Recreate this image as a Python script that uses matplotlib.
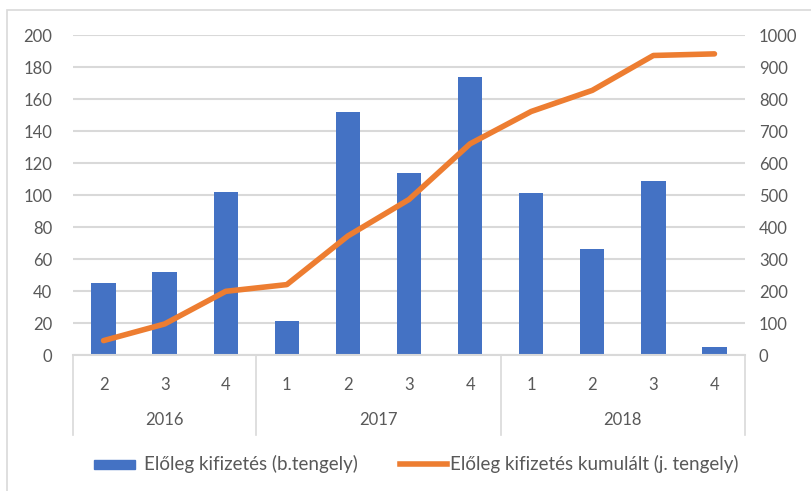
import numpy as np
import matplotlib.pyplot as plt
from matplotlib.patches import Rectangle
from matplotlib.lines import Line2D

plt.rcParams['font.family'] = ['Lato', 'DejaVu Sans']

# data
years = ['2016', '2017', '2018']
year_counts = [3, 4, 4]
quarters = ['2', '3', '4', '1', '2', '3', '4', '1', '2', '3', '4']
payments = [45, 52, 102, 21, 152, 114, 174, 101, 66, 109, 5]
cumulative = [45, 97, 199, 220, 372, 486, 660, 761, 827, 936, 941]

bar_label = 'Előleg kifizetés (b.tengely)'
line_label = 'Előleg kifizetés kumulált (j. tengely)'

blue = '#4472C4'
orange = '#ED7D31'
txt = '#595959'
grid = '#D9D9D9'
W, H = 812, 491

fig = plt.figure(figsize=(W/100, H/100), dpi=100)
ax = fig.add_axes([73/W, 1-355/H, 672/W, 320/H])
ax2 = ax.twinx()

x = np.arange(len(quarters))
ax.bar(x, payments, width=0.4, color=blue, zorder=2)
ax2.plot(x, cumulative, color=orange, lw=4, solid_capstyle='round', solid_joinstyle='round', zorder=3)

ax.set_xlim(-0.5, len(quarters)-0.5)
ax.set_ylim(0, 200)
ax2.set_ylim(0, 1000)
ax.set_yticks(range(0, 201, 20))
ax2.set_yticks(range(0, 1001, 100))
ax.yaxis.grid(True, color=grid, lw=1.5, zorder=0)
ax.set_axisbelow(True)

for a in (ax, ax2):
    for s in a.spines.values():
        s.set_visible(False)
    a.tick_params(axis='y', length=0, labelsize=12, labelcolor=txt, pad=10)
ax.tick_params(axis='y', pad=15)
ax.set_xticks([])

# multi-level category axis
ax.plot([-0.5, len(quarters)-0.5], [0, 0], color=grid, lw=1.5, clip_on=False)
trans = ax.get_xaxis_transform()
fy = lambda py: (1-py/H - (1-355/H)) / (320/H)
bounds = np.concatenate([[0], np.cumsum(year_counts)]) - 0.5
for b in bounds:
    ax.plot([b, b], [0, fy(435)], color=grid, lw=1.2, transform=trans, clip_on=False)
for i, q in enumerate(quarters):
    ax.text(i, fy(385), q, transform=trans, ha='center', va='center', fontsize=12, color=txt)
for k, yr in enumerate(years):
    ax.text((bounds[k]+bounds[k+1])/2, fy(420), yr, transform=trans, ha='center', va='center', fontsize=12, color=txt)

# legend, drawn by hand (handles differ in size)
ly = 1-464/H
fig.patches.append(Rectangle((94/W, ly-4.5/H), 41/W, 9/H, transform=fig.transFigure, color=blue))
fig.text(144/W, ly, bar_label, ha='left', va='center', fontsize=13.5, color=txt)
fig.lines.append(Line2D([400/W, 447/W], [ly, ly], transform=fig.transFigure, color=orange, lw=4))
fig.text(450/W, ly, line_label, ha='left', va='center', fontsize=13.5, color=txt)

# chart border
fig.patches.append(Rectangle((7/W, -0.1), 1.2, 1-10/H+0.1, transform=fig.transFigure,
                             fill=False, edgecolor=grid, lw=1.2))

fig.savefig('out.png', dpi=100, facecolor='white')
